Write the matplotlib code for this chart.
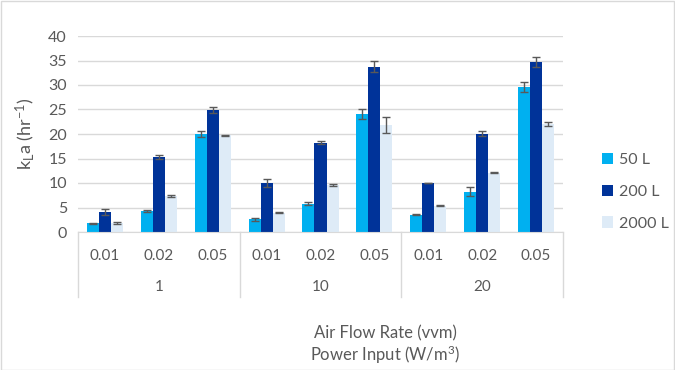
import matplotlib
matplotlib.use("Agg")
import matplotlib.pyplot as plt
import matplotlib.transforms as mtransforms
from matplotlib.patches import Rectangle
import numpy as np

plt.rcParams['font.family'] = ['Lato', 'DejaVu Sans']
plt.rcParams['mathtext.fontset'] = 'custom'
plt.rcParams['mathtext.rm'] = 'Lato'
plt.rcParams['mathtext.it'] = 'Lato'

power_groups = ["1", "10", "20"]
air_flow = ["0.01", "0.02", "0.05"]
series_names = ["50 L", "200 L", "2000 L"]
vals_50 = [1.8, 4.2, 20.0, 2.6, 5.8, 24.1, 3.5, 8.2, 29.6]
err_50 = [0.1, 0.2, 0.7, 0.3, 0.3, 1.1, 0.1, 0.9, 1.1]
vals_200 = [4.0, 15.3, 24.9, 10.0, 18.2, 33.7, 10.0, 20.1, 34.7]
err_200 = [0.6, 0.5, 0.7, 0.8, 0.3, 1.1, 0.05, 0.6, 1.0]
vals_2000 = [1.8, 7.3, 19.7, 3.9, 9.6, 21.8, 5.4, 12.1, 22.0]
err_2000 = [0.2, 0.2, 0.1, 0.1, 0.2, 1.6, 0.1, 0.1, 0.4]
colors = ["#00B0F0", "#003399", "#DEEBF7"]

W, H = 675, 370
fig = plt.figure(figsize=(W / 100, H / 100), dpi=100)
left, right, top, bottom = 78, 563, 36, 232
ax = fig.add_axes([left / W, 1 - bottom / H, (right - left) / W, (bottom - top) / H])

x = np.arange(len(vals_50))
w = 0.223
tc = "#595959"
for i, (v, e) in enumerate([(vals_50, err_50), (vals_200, err_200), (vals_2000, err_2000)]):
    ax.bar(x + (i - 1) * w, v, w, color=colors[i], label=series_names[i], zorder=2)
    ax.errorbar(x + (i - 1) * w, v, yerr=e, fmt='none', ecolor=tc, elinewidth=1,
                capsize=3, capthick=1, zorder=3)

ax.set_xlim(-0.5, len(x) - 0.5)
ax.set_ylim(0, 40)
ax.set_yticks(range(0, 41, 5))
ax.yaxis.grid(True, color="#D9D9D9", linewidth=1, zorder=0)
ax.set_axisbelow(True)
for s in ['left', 'right', 'top']:
    ax.spines[s].set_visible(False)
ax.spines['bottom'].set_color("#D9D9D9")
ax.tick_params(axis='y', length=0, labelsize=11.5, labelcolor=tc, pad=8)
ax.tick_params(axis='x', length=0, labelbottom=False)

trans = mtransforms.blended_transform_factory(ax.transData, ax.transAxes)
axh = bottom - top
for i in range(len(x)):
    ax.text(x[i], -24 / axh, air_flow[i % 3], transform=trans, ha='center', va='center',
            fontsize=11, color=tc)
for g in range(3):
    ax.text(g * 3 + 1, -55 / axh, power_groups[g], transform=trans, ha='center', va='center',
            fontsize=11, color=tc)
for xb in [-0.5, 2.5, 5.5, 8.5]:
    ax.plot([xb, xb], [0, -65 / axh], transform=trans, color="#D9D9D9", lw=1, clip_on=False)

ax.set_ylabel("k$_\\mathregular{L}$a (hr$^{-1}$)", fontsize=13, color=tc, labelpad=8)

fig.text(385 / W, 1 - 333 / H, "Air Flow Rate (vvm)", ha='center', va='center', fontsize=12, color=tc)
fig.text(385 / W, 1 - 355 / H, "Power Input (W/m$^3$)", ha='center', va='center', fontsize=12, color=tc)

leg = ax.legend(loc='center left', bbox_to_anchor=(1.05, 0.205), frameon=False, fontsize=11.5,
                handlelength=0.7, handleheight=0.7, labelspacing=1.1, handletextpad=0.4)
for t in leg.get_texts():
    t.set_color(tc)

fig.patches.append(Rectangle((0.001, 0.001), 0.997, 0.997, transform=fig.transFigure,
                             fill=False, edgecolor="#D9D9D9", lw=1))
fig.savefig("out.png", dpi=100)
